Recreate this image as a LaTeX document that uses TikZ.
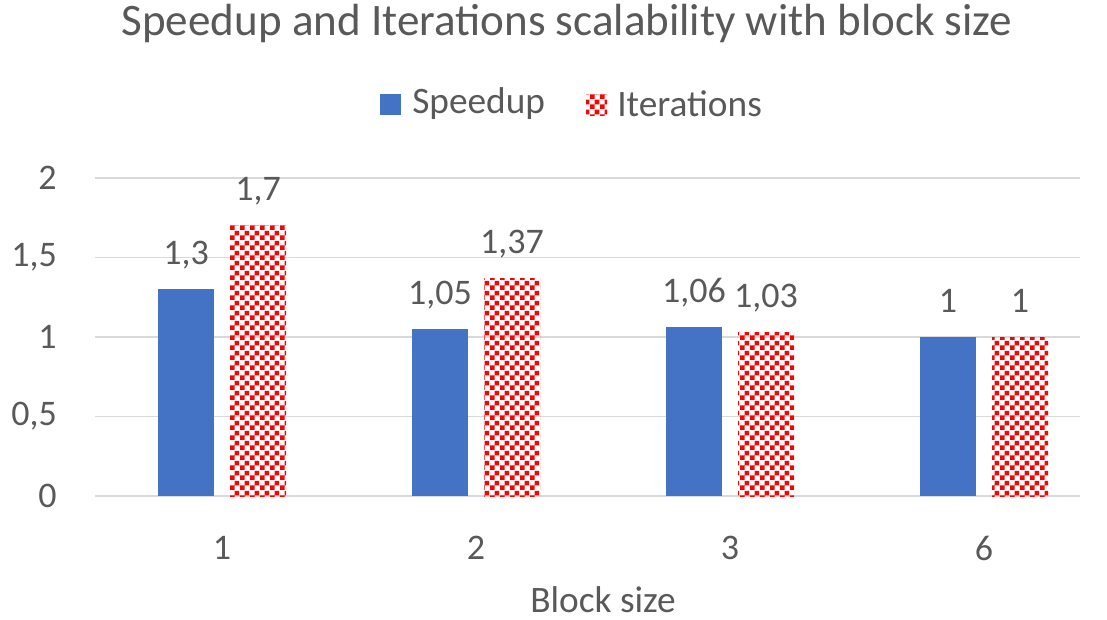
\documentclass[tikz,border=0pt]{standalone}
\usepackage{fontspec}
\setmainfont{Carlito}
\usepackage{xcolor}
\usepackage{tikz}
\usetikzlibrary{patterns}

\definecolor{txtgray}{RGB}{89,89,89}
\definecolor{gridgray}{RGB}{217,217,217}
\definecolor{barblue}{RGB}{68,114,196}

% checkerboard with larger cells
\pgfdeclarepatternformonly{bigchecker}{\pgfpointorigin}{\pgfqpoint{7.5pt}{7.5pt}}{\pgfqpoint{7.5pt}{7.5pt}}{%
  \pgfpathrectangle{\pgfpointorigin}{\pgfqpoint{3.75pt}{3.75pt}}%
  \pgfpathrectangle{\pgfqpoint{3.75pt}{3.75pt}}{\pgfqpoint{3.75pt}{3.75pt}}%
  \pgfusepath{fill}}

\tikzset{
  charttext/.style={text=txtgray, inner sep=0pt},
  ticklabel/.style={charttext, font=\fontsize{27}{30}\selectfont},
  datalabel/.style={charttext, font=\fontsize{27}{30}\selectfont, anchor=base},
  gridline/.style={color=gridgray, line width=1.2},
  speedbar/.style={fill=barblue},
  iterbar/.style={pattern=bigchecker, pattern color=red}
}

\begin{document}
\begin{tikzpicture}[x=0.75pt,y=0.75pt,yscale=-1,xscale=1]
\useasboundingbox (0,0) rectangle (1107,619);

% Title
\draw (567,23) node [charttext, font=\fontsize{33.8}{38}\selectfont] (title) {Speedup and Iterations scalability with block size};

% Legend
\fill [speedbar] (380,94) rectangle (401,115);
\draw (412,104) node [charttext, anchor=west, font=\fontsize{28}{32}\selectfont] (legspeed) {Speedup};
\fill [iterbar] (586,94) rectangle (607,115);
\draw (617,104) node [charttext, anchor=west, font=\fontsize{28}{32}\selectfont] (legiter) {Iterations};

% Gridlines and value axis
\foreach \v/\lab [count=\i] in {0/0, 0.5/{0,5}, 1/1, 1.5/{1,5}, 2/2}{
  \draw [gridline] (95,{496-159*\v}) -- (1080,{496-159*\v});
  \draw (57,{496-159*\v}) node [ticklabel, anchor=east] (ytick\i) {\lab};
}

% Bars
\foreach \c/\s/\it/\sl/\il/\cat in {222/1.3/1.7/{1,3}/{1,7}/1, 476/1.05/1.37/{1,05}/{1,37}/2, 730/1.06/1.03/{1,06}/{1,03}/3, 984/1/1/1/1/6}{
  \fill [speedbar] (\c-64,496) rectangle (\c-8,{496-159*\s});
  \fill [iterbar] (\c+8,496) rectangle (\c+64,{496-159*\it});
  \draw (\c-36,{496-159*\s-25}) node [datalabel] (speed\cat) {\sl};
  \draw (\c+36,{496-159*\it-25}) node [datalabel] (iter\cat) {\il};
  \draw (\c,548) node [ticklabel] (xtick\cat) {\cat};
}

% Axis title
\draw (603,600) node [charttext, font=\fontsize{28}{32}\selectfont] (xtitle) {Block size};

\end{tikzpicture}
\end{document}
